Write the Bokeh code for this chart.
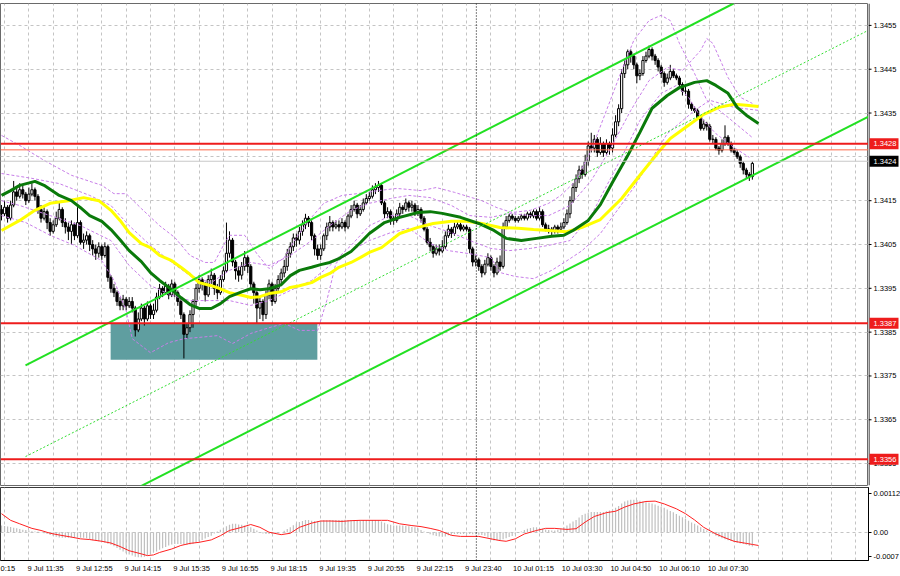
from bokeh.plotting import figure
from bokeh.layouts import column, row
from bokeh.models import FixedTicker, Span, Grid, ColumnDataSource, Range1d
from bokeh.core.properties import value
from bokeh.embed import file_html
from bokeh.resources import INLINE

FONT = "Liberation Sans"
FS = "7.5px"

# ---------------- data (prices in pips above 1.3300) ----------------
first_open_pips = 113
close_pips = [
    112, 113.5, 111, 114, 117, 116, 117.5, 116.5, 115, 116.5,
    117.5, 116, 113, 111, 112.5, 110, 108, 109.5, 111, 113,
    110, 109, 108, 109.5, 107, 110, 105.5, 106, 107, 105,
    104, 103, 104.5, 102.5, 104.5, 97.5, 95, 94, 92, 91,
    92.5, 91, 92, 90.5, 85.5, 88, 90.5, 88, 91, 89,
    90, 93, 95, 94, 95.5, 93.5, 96, 94, 92, 89,
    84.5, 86, 89, 92, 95, 97, 96, 93.5, 97, 98,
    95, 94, 97, 99, 103, 106, 101, 99, 98, 100,
    102, 100, 96, 94, 90.5, 92, 89, 93.5, 96, 92,
    95, 97, 98.5, 100, 103, 104.5, 106.5, 106, 108, 109.5,
    111, 110, 107, 104, 102.5, 104, 107, 109, 110, 109,
    109.5, 109, 110, 109, 111.5, 113, 114, 112, 113, 114.5,
    115.5, 116, 117.5, 118, 118.5, 114.5, 112, 112.5, 111, 110.5,
    112, 113.5, 113, 114.5, 113.5, 114, 112.5, 113, 111, 108.5,
    105.5, 104.5, 103, 104, 103.5, 104.5, 107, 108.5, 107.5, 109,
    109.5, 108.5, 109, 108.5, 104, 101, 101.5, 100, 98.5, 100.5,
    102, 100, 98.5, 101, 100, 109, 110.5, 111.5, 111, 110.5,
    111, 111.5, 111, 112, 111.5, 112.5, 111, 112.5, 109.5, 108.5,
    108.5, 108, 109, 108.5, 109, 110, 112, 115, 118, 120,
    122, 121, 124, 127.5, 127, 129, 126, 128, 126, 128,
    127, 130, 133, 136, 144, 146, 149, 148, 146, 143.5,
    144, 147, 148, 149.5, 148, 147, 145.5, 144, 142, 143,
    144.5, 143.5, 143, 141.5, 140, 140, 137, 136, 135.5, 134,
    131.5, 132.5, 132, 129, 129, 127, 126.5, 128, 129.5, 128,
    126.5, 126, 125, 123.5, 122, 121, 120.5, 123.5,
]
high_pips = [
    114, 115, 114, 115, 119.5, 118, 119, 118.5, 117, 118,
    119, 118, 116.5, 114, 113.5, 113, 111, 110.5, 112.5, 114.5,
    113.5, 111, 110, 110.5, 110, 113.5, 110.5, 107.5, 108, 107.5,
    106, 105, 105.5, 105, 105.5, 105, 98, 96, 94.5, 93,
    93.5, 93, 93, 93, 91, 89.5, 91.5, 91, 92, 91.5,
    91.5, 94, 96, 95.5, 96.5, 96, 97, 96.5, 94.5, 92.5,
    89.5, 87, 90, 92.5, 96, 98, 97.5, 96.5, 98, 99.5,
    98.5, 96, 98, 100, 110, 108, 106.5, 101.5, 100, 101,
    103.5, 102.5, 100.5, 96.5, 94.5, 93, 92.5, 94.5, 97, 96.5,
    96, 98, 99.5, 101.5, 104, 105.5, 107.5, 107.5, 109, 110.5,
    112, 111.5, 110.5, 107.5, 105, 105, 107.5, 110, 111.5, 110.5,
    110.5, 110.5, 111, 110.5, 112, 114, 115, 114.5, 114, 115.5,
    116.5, 117, 118.5, 119, 119.5, 119, 115, 113.5, 113, 111.5,
    113, 114.5, 114, 115.5, 115, 115, 114.5, 114, 113.5, 111.5,
    109, 106.5, 105, 105, 105, 106, 108, 109.5, 109, 110,
    110.5, 110, 109.5, 109.5, 109, 104.5, 102.5, 102, 100.5, 101.5,
    103, 102.5, 100.5, 102, 102.5, 110, 111.5, 112, 112, 111.5,
    111.5, 112, 112, 112.5, 112.5, 113, 113, 113.5, 113, 110,
    109.5, 109, 109.5, 109.5, 110, 111, 113, 116, 119, 121,
    123, 123, 125.5, 128.5, 130.5, 130, 129.5, 129.5, 128.5, 129,
    128.5, 131.5, 134.5, 137, 145, 147, 149.5, 149.5, 148.5, 146.5,
    145, 148, 149, 150.4, 150, 148.5, 147.5, 146, 144.5, 144,
    146, 145, 144, 143.5, 142, 141, 140.5, 137.5, 136.5, 136,
    134.5, 133.5, 133, 132.5, 130, 129.5, 127.5, 129, 132.2, 130,
    128.5, 127, 126.5, 125.5, 124, 122.5, 121.5, 124,
]
low_pips = [
    110.5, 111.5, 110, 110.5, 113.5, 115, 115.5, 115.5, 114, 114.5,
    116, 115, 112, 110, 110.5, 108.5, 107, 107.5, 109, 110.5,
    109, 107.5, 106, 105, 106, 106.5, 105, 104, 105, 103.5,
    102.5, 101.5, 102, 101.5, 102, 96.5, 94, 93, 91, 90,
    90, 90, 90.5, 89.5, 84, 85, 87.5, 86.5, 87.5, 88,
    88, 89.5, 92.5, 93, 93.5, 92.5, 93, 93, 91, 88,
    79, 83.5, 85, 86, 91, 94, 94.5, 92, 93, 96,
    93.5, 92.5, 93.5, 96.5, 98.5, 102, 100, 97, 96.5, 97,
    99, 98.5, 95, 91.5, 87, 88, 87.5, 88, 92.5, 91,
    91.5, 94, 96, 97.5, 99, 102, 103.5, 104.5, 105, 107,
    108.5, 109, 106, 102.5, 101.5, 101.5, 103.5, 106, 108, 108,
    108.5, 108, 108.5, 108, 108.5, 111, 112.5, 111, 111.5, 112.5,
    114, 115, 115.5, 116.5, 117, 114, 111, 111, 109.5, 109.5,
    110, 111.5, 112, 112.5, 112.5, 112.5, 111.5, 111.5, 110, 108,
    105, 103.5, 102, 102.5, 102.5, 103, 104, 106.5, 106.5, 107,
    108.5, 108, 108, 108, 103, 100, 100, 99, 97.5, 98,
    100, 99, 97.5, 98, 99, 99.5, 108.5, 110, 110.5, 110,
    110, 110.5, 110.5, 110.5, 111, 111, 110.5, 110.5, 109, 108,
    107.5, 107, 107.5, 107.5, 108, 108.5, 109.5, 111, 114.5, 117,
    119, 120, 120.5, 123, 126, 126, 125, 125.5, 125, 125.5,
    125.5, 126, 129.5, 132, 135, 143, 145, 146.5, 145, 141.8,
    142.5, 143.5, 146.5, 147.5, 147, 146, 144.5, 143, 141, 141.5,
    142.5, 143, 142.5, 140.5, 139, 139, 136, 135.5, 135, 133.5,
    131, 131, 131, 128.5, 128, 126.5, 125.5, 126, 127.5, 127.5,
    126, 125.5, 124.5, 122.5, 121, 120, 119.5, 119.8,
]

# moving averages (bar index, pips)
green_ma_bar = [0, 3, 6, 11, 14, 19, 23, 26, 29, 33, 36, 39, 42, 46, 49, 52, 56, 59, 62, 65,
                69, 72, 75, 79, 82, 85, 88, 92, 95, 98, 102, 105, 108, 111, 115, 118, 121, 126, 131, 137,
                141, 145, 151, 157, 162, 166, 171, 176, 181, 185, 188, 193, 197, 201, 206, 210, 214, 219, 223, 228,
                232, 235, 239, 242, 245, 249]
green_ma_pips = [116.2, 117.3, 118.5, 119.4, 118.5, 116.2, 115.0, 113.4, 111.6, 110.3,
                 108.4, 106.1, 103.6, 101.1, 98.6, 96.8, 94.7, 92.9, 91.3, 90.4,
                 90.4, 91.5, 93.1, 94.2, 94.9, 94.7, 94.9, 95.8, 97.9, 99.1,
                 99.8, 100.4, 100.9, 101.8, 103.4, 105.4, 107.5, 110.0, 111.2, 112.3,
                 112.5, 112.1, 111.2, 109.8, 108.2, 106.4, 105.9, 106.4, 106.9, 107.1,
                 108.2, 110.5, 114.1, 119.2, 125.3, 130.6, 136.1, 139.0, 140.8, 142.0,
                 142.4, 141.3, 139.5, 136.3, 134.5, 132.6]
yellow_ma_bar = [0, 6, 11, 16, 22, 27, 32, 36, 39, 42, 46, 49, 52, 56, 59, 62, 65, 69, 72, 75,
                 79, 82, 85, 88, 92, 95, 98, 102, 105, 108, 111, 115, 118, 121, 125, 131, 137, 142, 148, 153,
                 158, 164, 170, 175, 180, 186, 191, 197, 204, 210, 216, 220, 226, 231, 236, 241, 245, 249]
yellow_ma_pips = [108.2, 110.5, 112.8, 114.4, 115.0, 115.7, 115.0, 112.8, 110.5, 107.7,
                  105.2, 104.3, 102.5, 101.3, 99.8, 98.2, 96.3, 95.6, 94.9, 94.0,
                  93.4, 92.9, 93.1, 93.8, 94.2, 95.2, 95.6, 96.3, 97.5, 98.4,
                  99.8, 100.9, 102.0, 103.2, 104.3, 107.5, 108.9, 109.8, 110.3, 110.3,
                  109.8, 108.9, 108.7, 108.4, 108.2, 107.9, 108.9, 110.7, 115.5, 120.8,
                  126.0, 129.2, 132.2, 134.7, 136.3, 137.0, 136.8, 136.5]

# envelope / band lines (bar index, pips)
band_upper_a_bar = [0, 6, 14, 23, 33, 37, 41, 46, 52, 57, 62, 67, 70, 73, 75, 80, 84, 88, 93, 97,
                    102, 106, 112, 117, 124, 130, 138, 143, 149, 158, 163, 168, 174, 180, 184, 189, 194, 199, 204, 208,
                    213, 217, 220, 223, 228, 232, 239, 243, 247]
band_upper_a_pips = [129.9, 127.6, 124.2, 120.8, 118.5, 116.6, 116.6, 113.2, 109.3, 106.6,
                     102.5, 100.9, 100.9, 104.8, 107.1, 107.1, 102.9, 99.5, 102.0, 106.6,
                     111.2, 114.4, 116.2, 116.6, 117.3, 117.8, 117.3, 118.0, 116.9, 115.0,
                     113.4, 112.3, 112.8, 114.4, 116.2, 119.6, 126.5, 135.6, 144.7, 151.6,
                     156.1, 157.3, 156.1, 150.9, 144.0, 137.9, 134.0, 131.7, 129.4]
band_upper_b_bar = [0, 10, 19, 29, 36, 42, 49, 56, 62, 69, 75, 82, 88, 95, 102, 108, 115, 121, 128, 134,
                    141, 148, 154, 161, 167, 174, 180, 187, 194, 200, 207, 213, 219, 224, 230, 232, 234, 239, 243, 247]
band_upper_b_pips = [121.2, 120.1, 118.9, 116.2, 113.9, 109.3, 104.8, 100.9, 97.9, 96.3,
                     99.1, 100.9, 100.2, 102.5, 105.9, 109.3, 112.8, 114.4, 115.5, 116.2,
                     115.7, 113.9, 111.6, 111.2, 112.1, 111.6, 111.6, 113.9, 119.6, 126.5,
                     135.6, 142.4, 145.4, 144.7, 149.3, 152.0, 150.9, 143.1, 138.6, 137.2]
band_lower_a_bar = [0, 8, 16, 24, 33, 37, 41, 43, 49, 55, 60, 65, 71, 76, 82, 87, 93, 98, 104, 107,
                    110, 115, 121, 128, 134, 141, 147, 154, 161, 164, 169, 175, 181, 186, 191, 197, 208, 219, 228, 233,
                    241, 249]
band_lower_a_pips = [111.6, 110.0, 107.1, 104.8, 101.3, 96.8, 89.9, 83.5, 80.3, 82.6,
                     83.5, 83.8, 84.2, 82.4, 84.7, 85.8, 87.0, 85.4, 85.4, 92.2,
                     100.7, 103.6, 105.9, 107.7, 108.7, 105.2, 103.6, 102.9, 102.0, 98.6,
                     97.7, 97.2, 99.1, 101.3, 103.6, 107.5, 118.0, 130.3, 135.6, 137.9,
                     136.3, 135.6]
band_lower_b_bar = [0, 6, 16, 26, 36, 42, 49, 56, 62, 69, 75, 82, 88, 95, 102, 108, 115, 121, 128, 134,
                    141, 148, 154, 161, 167, 174, 180, 187, 194, 197, 204, 210, 217, 222, 226, 230, 235, 241, 246]
band_lower_b_pips = [115.0, 113.9, 111.6, 109.3, 105.9, 100.2, 95.6, 93.4, 92.2, 92.2,
                     92.2, 91.1, 92.2, 94.5, 96.8, 100.2, 104.8, 109.3, 111.6, 111.6,
                     109.3, 107.7, 105.9, 104.1, 103.6, 104.1, 104.8, 105.9, 111.6, 115.7,
                     124.9, 133.3, 139.5, 141.3, 138.6, 134.0, 130.3, 127.1, 124.9]

# trend channel (bar index, pips)
channel_upper_bar = [7.9, 240.8]
channel_upper_pips = [77.4, 160.0]
channel_lower_bar = [45.7, 285.2]
channel_lower_pips = [49.8, 134.2]
channel_mid_bar = [7.9, 285.2]
channel_mid_pips = [56.6, 153.9]

# horizontal levels
level_prices = [1.3428, 1.3387, 1.3356]
level_labels = ["1.3428", "1.3387", "1.3356"]
secondary_level = 1.34266
bid_price = 1.3424
bid_label = "1.3424"

# buy zone
zone_bars = [35.9, 103.9]
zone_prices = [1.33787, 1.3387]

day_separator_bar = 156.2

# MACD histogram (units 1e-5)
macd_hist_e5 = [
    19, 18, 16, 15, 13, 11, 9, 7, 6, 5,
    3, 2, 1, -1, -3, -5, -8, -11, -13, -15,
    -16, -16, -16, -16, -15, -16, -16, -16, -17, -20,
    -23, -24, -26, -28, -30, -33, -36, -40, -45, -50,
    -55, -60, -64, -67, -70, -72, -72, -70, -67, -63,
    -59, -55, -50, -46, -42, -38, -35, -34, -34, -34,
    -35, -36, -35, -33, -30, -26, -22, -18, -14, -10,
    -4, 2, 7, 12, 17, 21, 24, 24, 22, 21,
    19, 16, 14, 10, 5, 0, -4, -5, -5, -5,
    -4, -3, 0, 4, 9, 14, 20, 25, 29, 32,
    35, 35, 33, 32, 32, 33, 34, 34, 35, 35,
    35, 35, 35, 36, 35, 35, 35, 35, 35, 35,
    35, 35, 35, 35, 34, 31, 27, 23, 21, 19,
    19, 19, 19, 18, 17, 15, 14, 11, 6, 2,
    -2, -6, -9, -11, -12, -13, -12, -9, -7, -5,
    -5, -5, -5, -5, -5, -6, -6, -7, -8, -10,
    -15, -22, -24, -23, -22, -20, -17, -14, -11, -6,
    -2, 2, 6, 10, 12, 14, 14, 12, 10, 8,
    6, 5, 5, 7, 10, 14, 19, 25, 31, 35,
    42, 49, 53, 56, 58, 58, 58, 58, 58, 60,
    62, 66, 70, 75, 82, 88, 91, 93, 93, 92,
    90, 88, 86, 84, 82, 79, 76, 73, 70, 65,
    61, 57, 52, 47, 43, 38, 33, 28, 24, 19,
    14, 9, 5, 0, -5, -10, -14, -17, -20, -23,
    -25, -28, -30, -32, -34, -36, -39, -41,
]
signal_bar = [0, 3, 6, 10, 13, 16, 19, 23, 26, 29, 33, 36, 39, 42, 46, 48, 50, 52, 56, 59,
              62, 65, 69, 72, 75, 79, 82, 85, 88, 92, 95, 98, 102, 105, 108, 112, 115, 118, 125, 127,
              131, 135, 138, 141, 144, 148, 151, 157, 161, 164, 166, 169, 172, 176, 179, 182, 186, 189, 192, 195,
              199, 202, 205, 208, 212, 215, 218, 222, 225, 228, 231, 235, 238, 241, 245, 247, 249]
signal_e5 = [53, 34, 24, 11, 5, -3, -8, -14, -19, -21, -26, -31, -41, -53, -62, -67, -65, -58, -48, -38,
             -32, -29, -22, -10, 5, 14, 22, 14, 0, -7, -3, 14, 26, 32, 32, 31, 33, 34, 34, 34,
             24, 19, 16, 11, 5, -9, -12, -12, -19, -24, -26, -19, -5, 5, 11, 11, 8, 10, 29, 45,
             56, 60, 72, 81, 88, 89, 81, 67, 53, 35, 14, -5, -16, -26, -32, -35, -38]

# axes
price_ticks = [1.3355, 1.3365, 1.3375, 1.3385, 1.3395, 1.3405, 1.3415, 1.3425, 1.3435, 1.3445, 1.3455]
macd_ticks = [0.00112, 0.0, -0.0007]
macd_tick_labels = ["0.00112", "0.00", "-0.0007"]
time_labels = ["9 Jul 10:15", "9 Jul 11:35", "9 Jul 12:55", "9 Jul 14:15", "9 Jul 15:35", "9 Jul 16:55",
               "9 Jul 18:15", "9 Jul 19:35", "9 Jul 20:55", "9 Jul 22:15", "9 Jul 23:40", "10 Jul 01:15",
               "10 Jul 03:30", "10 Jul 04:50", "10 Jul 06:10", "10 Jul 07:30"]
time_label_bars = [-7, 9, 25, 41, 57, 73, 89, 105, 121, 137, 153, 169, 185, 201, 217, 233]
grid_bars = [1 + 8 * k for k in range(36)]

# ---------------- build ----------------
PIP = 0.0001
BASE = 1.3300


def to_price(vals):
    return [BASE + v * PIP for v in vals]


X0, X1 = -0.33, 285.2
FRAME_W = 868
SCALE_W = 32
MAIN_H = 482
Y0, Y1 = 1.3350, 1.3460
PX_PER_BAR = FRAME_W / (X1 - X0)
PX_PER_PRICE = MAIN_H / (Y1 - Y0)
CHAR_W = 3.05
x_range = Range1d(X0, X1)
y_range = Range1d(Y0, Y1)

n = len(close_pips)
bars = list(range(n))
opens = to_price([first_open_pips] + close_pips[:-1])
closes = to_price(close_pips)
highs = to_price(high_pips)
lows = to_price(low_pips)

GRID_COLOR = "#c4c4c4"
RED = "#ee1c1c"


def style_axis(ax):
    ax.major_label_text_font = FONT
    ax.major_label_text_font_size = FS
    ax.major_label_text_color = "#000000"
    ax.axis_line_color = "#000000"
    ax.minor_tick_line_color = None


# ---------- main price panel ----------
p1 = figure(frame_width=FRAME_W, frame_height=MAIN_H, x_range=x_range, y_range=y_range,
            y_axis_location=None, x_axis_location=None, toolbar_location=None,
            output_backend="svg", min_border_left=0, min_border_right=0, min_border_top=3,
            min_border_bottom=2)
p1.grid.visible = False
p1.outline_line_color = "#6a6a6a"
p1.add_layout(Grid(dimension=0, ticker=FixedTicker(ticks=grid_bars), grid_line_color=GRID_COLOR,
                   grid_line_dash="3 3"))
p1.add_layout(Grid(dimension=1, ticker=FixedTicker(ticks=price_ticks), grid_line_color=GRID_COLOR,
                   grid_line_dash="3 3"))

# buy zone
p1.quad(left=[zone_bars[0]], right=[zone_bars[1]], bottom=[zone_prices[0]], top=[zone_prices[1]],
        fill_color="#5f9ea0", line_color=None)

# candles
body_bottom = [min(a, b) for a, b in zip(opens, closes)]
body_top = [max(a, b) for a, b in zip(opens, closes)]
fills = ["white" if c >= o else "black" for o, c in zip(opens, closes)]
csrc = ColumnDataSource(dict(x=bars, hi=highs, lo=lows, bb=body_bottom, bt=body_top, fc=fills))
p1.segment(x0="x", x1="x", y0="lo", y1="hi", source=csrc, line_color="black", line_width=1)
p1.vbar(x="x", width=0.72, bottom="bb", top="bt", source=csrc, fill_color="fc", line_color="black",
        line_width=1)

# bands
for bx, by in [(band_upper_a_bar, band_upper_a_pips), (band_upper_b_bar, band_upper_b_pips),
               (band_lower_a_bar, band_lower_a_pips), (band_lower_b_bar, band_lower_b_pips)]:
    p1.line(bx, to_price(by), line_color="#c77ee8", line_width=1, line_dash="3 2")

# moving averages
p1.line(yellow_ma_bar, to_price(yellow_ma_pips), line_color="#ffff00", line_width=3)
p1.line(green_ma_bar, to_price(green_ma_pips), line_color="#0a7a0a", line_width=3)

# channel
p1.line(channel_upper_bar, to_price(channel_upper_pips), line_color="#22e022", line_width=2)
p1.line(channel_lower_bar, to_price(channel_lower_pips), line_color="#22e022", line_width=2)
p1.line(channel_mid_bar, to_price(channel_mid_pips), line_color="#33dd33", line_width=1, line_dash="2 2")

# levels
p1.add_layout(Span(location=bid_price, dimension="width", line_color="#c8c8c8", line_width=1))
p1.add_layout(Span(location=secondary_level, dimension="width", line_color="#ff6a4a", line_width=1))
for lv in level_prices:
    p1.add_layout(Span(location=lv, dimension="width", line_color=RED, line_width=2))
p1.add_layout(Span(location=day_separator_bar, dimension="height", line_color="#000000",
                   line_width=1, line_dash="1 2"))

# ---------- price scale strip (shares the price scale of the main panel) ----------
s1 = figure(frame_width=SCALE_W, frame_height=MAIN_H, x_range=Range1d(0, SCALE_W), y_range=y_range,
            y_axis_location=None, x_axis_location=None, toolbar_location=None,
            output_backend="svg", min_border_left=0, min_border_right=0, min_border_top=3,
            min_border_bottom=2)
s1.grid.visible = False
s1.outline_line_color = None
s1.segment(x0=[0.5], x1=[0.5], y0=[Y0], y1=[Y1], line_color="black", line_width=1)
shown_ticks = [t for t in price_ticks if abs(t - bid_price) > 0.00015]
s1.segment(x0=[0] * len(shown_ticks), x1=[3] * len(shown_ticks), y0=shown_ticks, y1=shown_ticks,
           line_color="black", line_width=1)
s1.text(x=[5] * len(shown_ticks), y=shown_ticks, text=["%.4f" % t for t in shown_ticks],
        text_font=value(FONT), text_font_size=value(FS), text_color="black",
        text_align="left", text_baseline="middle")
half_box = 5.5 / PX_PER_PRICE
box_prices = level_prices + [bid_price]
box_texts = level_labels + [bid_label]
box_colors = [RED] * len(level_prices) + ["#000000"]
s1.quad(left=[1] * len(box_prices), right=[30] * len(box_prices),
        bottom=[b - half_box for b in box_prices], top=[b + half_box for b in box_prices],
        fill_color=box_colors, line_color=None)
s1.text(x=[5] * len(box_prices), y=box_prices, text=box_texts, text_font=value(FONT),
        text_font_size=value(FS), text_color="white", text_align="left", text_baseline="middle")

# ---------- MACD panel ----------
p2 = figure(frame_width=FRAME_W, frame_height=73, x_range=x_range, y_range=Range1d(-0.00081, 0.00128),
            y_axis_location="right", x_axis_location="below", toolbar_location=None,
            output_backend="svg", min_border_left=0, min_border_right=SCALE_W, min_border_top=0,
            min_border_bottom=16)
p2.grid.visible = False
p2.outline_line_color = "#3a3a3a"
p2.add_layout(Grid(dimension=0, ticker=FixedTicker(ticks=grid_bars), grid_line_color=GRID_COLOR,
                   grid_line_dash="3 3"))
p2.add_layout(Grid(dimension=1, ticker=FixedTicker(ticks=[0.0]), grid_line_color=GRID_COLOR,
                   grid_line_dash="3 3"))
hist = [v * 1e-5 for v in macd_hist_e5]
p2.vbar(x=bars, width=0.4, bottom=0, top=hist, fill_color="#c0c0c0", line_color=None)
p2.line(signal_bar, [v * 1e-5 for v in signal_e5], line_color="#ff2020", line_width=1)
p2.add_layout(Span(location=day_separator_bar, dimension="height", line_color="#000000",
                   line_width=1, line_dash="1 2"))

y2 = p2.yaxis[0]
y2.ticker = FixedTicker(ticks=macd_ticks)
y2.major_label_overrides = dict(zip(macd_ticks, macd_tick_labels))
style_axis(y2)
y2.major_tick_out = 3
y2.major_tick_in = 0
y2.major_label_standoff = 2

# time labels: MetaTrader starts each label at its bar, so the label centre is bar + half its width.
centers = []
shown_labels = []
for b, t in zip(time_label_bars, time_labels):
    start_px = (b - X0) * PX_PER_BAR
    width_px = len(t) * CHAR_W
    if start_px >= 0:
        centers.append(round(b + width_px / 2 / PX_PER_BAR, 3))
        shown_labels.append(t)
    else:
        # only the tail of a label that begins left of the chart is visible
        end_px = start_px + width_px
        tail = t[-int(end_px // CHAR_W):]
        centers.append(round(X0 + (end_px - len(tail) * CHAR_W / 2) / PX_PER_BAR, 3))
        shown_labels.append(tail)
x2 = p2.xaxis[0]
x2.ticker = FixedTicker(ticks=centers)
x2.major_label_overrides = dict(zip(centers, shown_labels))
style_axis(x2)
x2.major_tick_line_color = None
x2.major_tick_out = 0
x2.major_tick_in = 0
x2.major_label_standoff = 3

layout = column(row(p1, s1, spacing=0), p2, spacing=0)
open("out.html", "w").write(file_html(layout, INLINE))
